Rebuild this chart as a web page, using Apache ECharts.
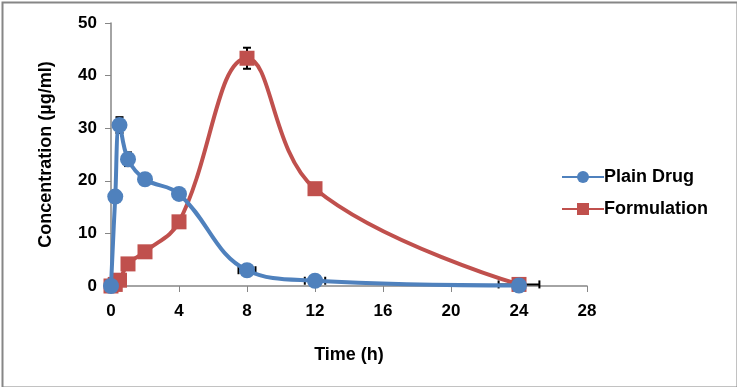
<!DOCTYPE html>
<html><head><meta charset="utf-8">
<script src="https://cdn.jsdelivr.net/npm/echarts@6/dist/echarts.min.js"></script>
<style>html,body{margin:0;padding:0;background:#fff;}#c{width:737px;height:387px;}</style>
</head><body><div id="c"></div>
<script>
var timePoints = [0, 0.25, 0.5, 1, 2, 4, 8, 12, 24];
var plainDrug = [0, 17.0, 30.6, 24.1, 20.3, 17.5, 3.0, 1.0, 0.1];
var formulation = [0, 0.3, 1.1, 4.2, 6.5, 12.2, 43.3, 18.5, 0.3];
var plainYErr = [0, 0, 1.5, 1.3, 0.5, 0.4, 0.4, 0.3, 0];
var plainXErr = [0, 0, 0, 0, 0, 0, 0.5, 0.6, 0];
var formYErr = [0, 0, 0, 0, 0, 0, 2.0, 0, 0];
var formXErr = [0, 0, 0, 0, 0, 0, 0, 0, 1.2];
var xTicks = [0, 4, 8, 12, 16, 20, 24, 28];
var yTicks = [0, 10, 20, 30, 40, 50];

function pairs(ys){ return timePoints.map(function(t,i){ return [t, ys[i]]; }); }
function errData(ys, ex, ey){ return timePoints.map(function(t,i){ return [t, ys[i], ex[i], ey[i]]; }); }

function renderErr(params, api){
  var x = api.value(0), y = api.value(1), ex = api.value(2), ey = api.value(3);
  var children = [];
  var style = {stroke:'#000', lineWidth:2};
  var cap = 4;
  if (ey > 0) {
    var top = api.coord([x, y+ey]), bot = api.coord([x, y-ey]);
    children.push({type:'line', shape:{x1:top[0],y1:top[1],x2:bot[0],y2:bot[1]}, style:style});
    children.push({type:'line', shape:{x1:top[0]-cap,y1:top[1],x2:top[0]+cap,y2:top[1]}, style:style});
    children.push({type:'line', shape:{x1:bot[0]-cap,y1:bot[1],x2:bot[0]+cap,y2:bot[1]}, style:style});
  }
  if (ex > 0) {
    var l = api.coord([x-ex, y]), r = api.coord([x+ex, y]);
    children.push({type:'line', shape:{x1:l[0],y1:l[1],x2:r[0],y2:r[1]}, style:style});
    children.push({type:'line', shape:{x1:l[0],y1:l[1]-cap,x2:l[0],y2:l[1]+cap}, style:style});
    children.push({type:'line', shape:{x1:r[0],y1:r[1]-cap,x2:r[0],y2:r[1]+cap}, style:style});
  }
  return {type:'group', children:children};
}

var chart = echarts.init(document.getElementById('c'), null, {renderer:'canvas'});
var font = 'Liberation Sans, Arial, sans-serif';
chart.setOption({
  animation:false,
  backgroundColor:'#fff',
  graphic:[{type:'rect', left:0, top:0, shape:{x:1,y:1,width:735,height:385}, style:{fill:'none', stroke:'#868686', lineWidth:2}, silent:true}],
  grid:{left:111, right:150, top:23, bottom:101},
  legend:{
    orient:'vertical', left:556, top:163, itemWidth:42, itemHeight:15, itemGap:14,
    textStyle:{fontFamily:font, fontWeight:'bold', fontSize:18, color:'#000', padding:[0,0,0,-5]},
    data:['Plain Drug','Formulation']
  },
  xAxis:{
    type:'value', min:0, max:28, interval:4,
    name:'Time (h)', nameLocation:'middle', nameGap:60,
    nameTextStyle:{fontFamily:font, fontWeight:'bold', fontSize:18, color:'#000'},
    axisLine:{show:true, lineStyle:{color:'#868686', width:1.5}},
    axisTick:{show:true, length:6, lineStyle:{color:'#868686'}},
    axisLabel:{fontFamily:font, fontWeight:'bold', fontSize:17, color:'#000', margin:17},
    splitLine:{show:false}
  },
  yAxis:{
    type:'value', min:0, max:50, interval:10,
    name:'Concentration (µg/ml)', nameLocation:'middle', nameGap:56, nameRotate:90,
    nameTextStyle:{fontFamily:font, fontWeight:'bold', fontSize:18, color:'#000'},
    axisLine:{show:true, lineStyle:{color:'#868686', width:1.5}},
    axisTick:{show:true, length:6, lineStyle:{color:'#868686'}},
    axisLabel:{fontFamily:font, fontWeight:'bold', fontSize:17, color:'#000', margin:14},
    splitLine:{show:false}
  },
  series:[
    {name:'Formulation', type:'line', data:pairs(formulation), smooth:0.4,
     symbol:'rect', symbolSize:15, color:'#C0504D',
     lineStyle:{color:'#C0504D', width:4}, itemStyle:{color:'#C0504D'}, z:2},
    {name:'Plain Drug', type:'line', data:pairs(plainDrug), smooth:0.4,
     symbol:'circle', symbolSize:16, color:'#4F81BD',
     lineStyle:{color:'#4F81BD', width:4}, itemStyle:{color:'#4F81BD'}, z:3},
    {type:'custom', data:errData(plainDrug, plainXErr, plainYErr), renderItem:renderErr, z:1, silent:true},
    {type:'custom', data:errData(formulation, formXErr, formYErr), renderItem:renderErr, z:1, silent:true}
  ]
});
</script></body></html>
